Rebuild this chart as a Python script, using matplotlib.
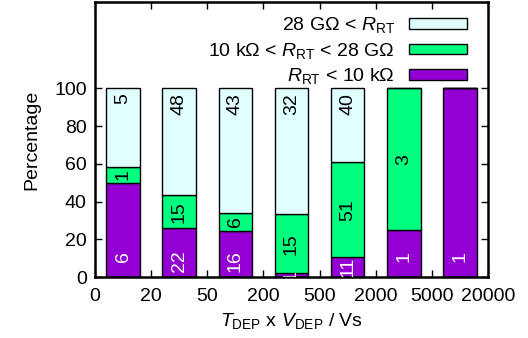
import numpy as np
import matplotlib
matplotlib.use("Agg")
import matplotlib.pyplot as plt

plt.rcParams['font.family'] = ['Liberation Sans', 'DejaVu Sans']
plt.rcParams['mathtext.fontset'] = 'custom'
plt.rcParams['mathtext.rm'] = 'Liberation Sans'
plt.rcParams['mathtext.it'] = 'Liberation Sans:italic'
plt.rcParams['font.size'] = 14

# bins of T_DEP x V_DEP, and counts of samples in each resistance class
tick_labels = ["0", "20", "50", "200", "500", "2000", "5000", "20000"]
n_low = np.array([6, 22, 16, 1, 11, 1, 1])      # R_RT < 10 kOhm
n_mid = np.array([1, 15, 6, 15, 51, 3, 0])      # 10 kOhm < R_RT < 28 GOhm
n_high = np.array([5, 48, 43, 32, 40, 0, 0])    # 28 GOhm < R_RT

total = n_low + n_mid + n_high
p_low = 100 * n_low / total
p_mid = 100 * n_mid / total
p_high = 100 * n_high / total

c_low = "#9400d3"
c_mid = "#00ff7f"
c_high = "#e0ffff"

fig = plt.figure(figsize=(5.28, 3.38), dpi=100)
ax = fig.add_axes([0.18, 0.18, 0.744, 0.815])

x = np.arange(len(n_low)) + 0.5
w = 0.6
ax.bar(x, p_low, w, color=c_low, edgecolor="black", linewidth=1, label=r"$R_{\mathrm{RT}}$ < 10 kΩ")
ax.bar(x, p_mid, w, bottom=p_low, color=c_mid, edgecolor="black", linewidth=1,
       label=r"10 kΩ < $R_{\mathrm{RT}}$ < 28 GΩ")
ax.bar(x, p_high, w, bottom=p_low + p_mid, color=c_high, edgecolor="black", linewidth=1,
       label=r"28 GΩ < $R_{\mathrm{RT}}$")

# count labels inside the bars
for i in range(len(x)):
    if n_low[i] > 0:
        if p_low[i] >= 14:
            ax.text(x[i], 14, str(n_low[i]), rotation=90, ha="center", va="top", color="white")
        else:
            ax.text(x[i], p_low[i] / 2, str(n_low[i]), rotation=90, ha="center", va="center",
                    color="white", clip_on=True)
    if n_mid[i] > 0:
        ax.text(x[i], p_low[i] + p_mid[i] / 2, str(n_mid[i]), rotation=90, ha="center", va="center")
    if n_high[i] > 0:
        ax.text(x[i], 97.5, str(n_high[i]), rotation=90, ha="center", va="top")

ax.set_xlim(0, 7)
ax.set_ylim(0, 146)
ax.set_xticks(np.arange(len(tick_labels)))
ax.set_xticklabels(tick_labels)
ax.set_yticks([0, 20, 40, 60, 80, 100])
ax.tick_params(direction="in", length=5, width=1, top=True, right=True)
ax.tick_params(axis="x", pad=8)
ax.tick_params(axis="y", pad=6)
for s in ax.spines.values():
    s.set_linewidth(1.8)

ax.set_ylabel("Percentage", labelpad=10)
ax.set_xlabel(r"$T_{\mathrm{DEP}}$ x $V_{\mathrm{DEP}}$ / Vs", labelpad=4)

h, l = ax.get_legend_handles_labels()
ax.legend(h[::-1], l[::-1], loc="upper right", bbox_to_anchor=(0.948, 0.95), markerfirst=False,
          frameon=False, handlelength=3.0, handleheight=0.45, handletextpad=0.75,
          labelspacing=0.28, borderaxespad=0, borderpad=0)

plt.savefig("out.png", dpi=100)
